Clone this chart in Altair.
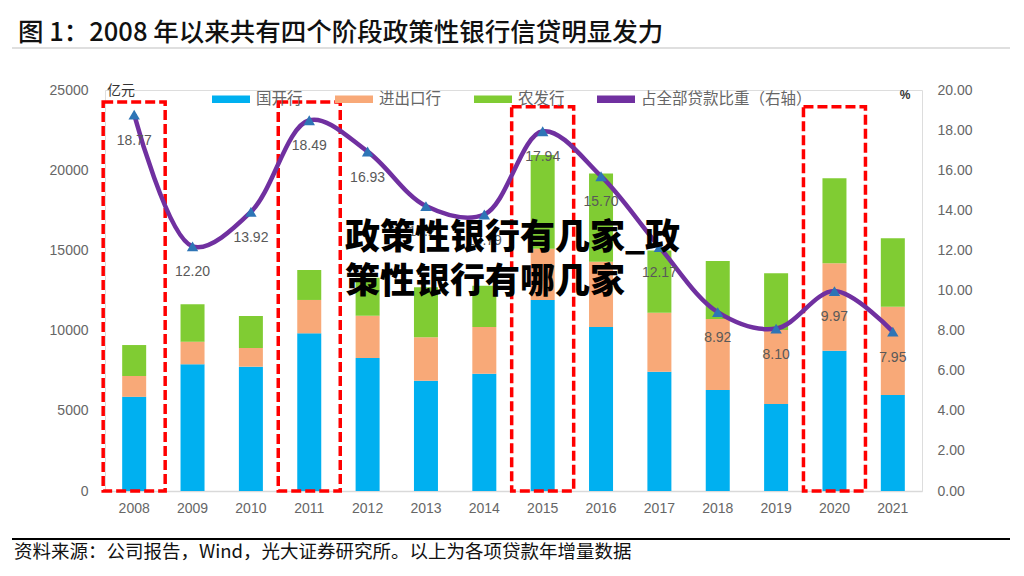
import altair as alt
import pandas as pd

years = ["2008", "2009", "2010", "2011", "2012", "2013", "2014",
         "2015", "2016", "2017", "2018", "2019", "2020", "2021"]
guokai = [5870, 7900, 7750, 9830, 8290, 6880, 7310, 11910, 10220, 7440, 6300, 5420, 8750, 5990]
jinchukou = [1300, 1410, 1165, 2080, 2640, 2700, 2910, 3190, 4080, 3680, 4420, 4620, 5450, 5500]
nongfa = [1930, 2330, 1995, 1870, 2370, 3120, 2580, 5850, 5500, 3880, 3620, 3530, 5300, 4260]
ratio = [18.77, 12.20, 13.92, 18.49, 16.93, 14.21, 13.79, 17.94, 15.70, 12.17, 8.92, 8.10, 9.97, 7.95]
series_names = ["国开行", "进出口行", "农发行", "占全部贷款比重（右轴）"]
series_colors = ["#00B0F0", "#F8A978", "#80CC33", "#7030A0"]
box_years = ["2008", "2011", "2015", "2020"]
box_tops = [24250, 24250, 23950, 23950]

title_text = "图 1：2008 年以来共有四个阶段政策性银行信贷明显发力"
source_text = "资料来源：公司报告，Wind，光大证券研究所。以上为各项贷款年增量数据"
mark_line1 = "政策性银行有几家_政"
mark_line2 = "策性银行有哪几家"

rows = []
for i, y in enumerate(years):
    for k, (name, vals) in enumerate(zip(series_names[:3], [guokai, jinchukou, nongfa])):
        rows.append({"year": y, "series": name, "v": vals[i], "ord": k})
bar_df = pd.DataFrame(rows)
line_df = pd.DataFrame({"year": years, "ratio": ratio,
                        "lab": [f"{r:.2f}" for r in ratio]})
box_df = pd.DataFrame({"year": box_years, "top": box_tops, "bottom": [0] * 4})

GRAY = "#666666"
xenc = alt.X("year:N", sort=years,
             scale=alt.Scale(paddingInner=0, paddingOuter=0),
             axis=alt.Axis(title=None, labelAngle=0, labelFont="Liberation Sans",
                           labelFontSize=14, labelColor=GRAY, labelPadding=10,
                           ticks=False, domainColor="#D9D9D9", domainWidth=1.5))

bars = alt.Chart(bar_df).mark_bar(size=24).encode(
    x=xenc,
    y=alt.Y("v:Q", stack="zero",
            scale=alt.Scale(domain=[0, 25000], nice=False),
            axis=alt.Axis(title=None, values=[0, 5000, 10000, 15000, 20000, 25000],
                          format="d", grid=False, domain=False, ticks=False,
                          labelFont="Liberation Sans", labelFontSize=14,
                          labelColor=GRAY, labelPadding=17)),
    color=alt.Color("series:N", scale=alt.Scale(domain=series_names, range=series_colors),
                    legend=alt.Legend(title=None, orient="none", direction="horizontal",
                                      legendX=107, legendY=-10, padding=0,
                                      symbolType="M-1,-0.2H1V0.2H-1Z", symbolSize=1444,
                                      symbolStrokeWidth=0, symbolOpacity=1,
                                      labelFont="Noto Sans CJK SC", labelFontSize=15.5,
                                      labelColor=GRAY, labelOffset=6, columnPadding=32,
                                      labelLimit=400)),
    order=alt.Order("ord:Q", sort="ascending"),
)

boxes = alt.Chart(box_df).mark_bar(size=62, fill=None, filled=False, stroke="#FF0000",
                                   strokeWidth=3.5, strokeDash=[10, 4]).encode(
    x=alt.X("year:N", sort=years),
    y=alt.Y("top:Q"),
    y2="bottom:Q",
)

left = alt.layer(bars, boxes)

yr = alt.Y("ratio:Q", scale=alt.Scale(domain=[0, 20], nice=False),
           axis=alt.Axis(title=None, values=[0, 2, 4, 6, 8, 10, 12, 14, 16, 18, 20],
                         format=".2f", grid=False, domain=False, ticks=False,
                         labelFont="Liberation Sans", labelFontSize=14,
                         labelColor=GRAY, labelPadding=15, orient="right"))

line = alt.Chart(line_df).mark_line(color="#7030A0", strokeWidth=4.5,
                                    interpolate="catmull-rom").encode(
    x=alt.X("year:N", sort=years), y=yr)
pts = alt.Chart(line_df).mark_point(shape="triangle-up", filled=True, size=130,
                                    color="#2E75B6", opacity=1).encode(
    x=alt.X("year:N", sort=years), y=yr)
labels = alt.Chart(line_df).mark_text(font="Liberation Sans", fontSize=14, color="#595959",
                                      dy=26).encode(
    x=alt.X("year:N", sort=years), y=yr, text="lab:N")

right = alt.layer(line, pts, labels)

one = pd.DataFrame({"t": [0]})

def txt(s, x, y, size, color, font, weight="normal", align="left"):
    return alt.Chart(pd.DataFrame({"t": [s]})).mark_text(
        font=font, fontSize=size, color=color, fontWeight=weight, align=align,
        baseline="middle").encode(x=alt.value(x), y=alt.value(y), text="t:N")

title = txt(title_text, -87, -57, 25.5, "#111111", "Noto Sans CJK SC", 500)
source = txt(source_text, -91, 462, 18.5, "#111111", "Noto Sans CJK SC")
unit_l = txt("亿元", 2, 1, 14, "#333333", "Noto Sans CJK SC")
unit_r = txt("%", 800, 5, 12, "#333333", "Liberation Sans", "bold", "center")
wm1 = txt(mark_line1, 240, 148, 35, "#000000", "Noto Sans CJK SC", 900)
wm2 = txt(mark_line2, 240, 192, 35, "#000000", "Noto Sans CJK SC", 900)

top_rule = alt.Chart(one).mark_rule(color="#BFBFBF", strokeWidth=1).encode(
    x=alt.value(-93), x2=alt.value(905), y=alt.value(-42))
bot_rule = alt.Chart(one).mark_rule(color="#000000", strokeWidth=2).encode(
    x=alt.value(-93), x2=alt.value(905), y=alt.value(449))

deco = alt.layer(title, source, unit_l, unit_r, top_rule, bot_rule, wm1, wm2)

chart = alt.layer(left, right, deco).resolve_scale(y="independent").properties(
    width=817, height=401,
    autosize=alt.AutoSizeParams(type="none"),
    padding={"left": 97, "top": 82, "right": 90, "bottom": 75},
).configure_view(stroke=None).configure(background="white")

chart.save("out.html", embed_options={"renderer": "svg", "actions": False})
